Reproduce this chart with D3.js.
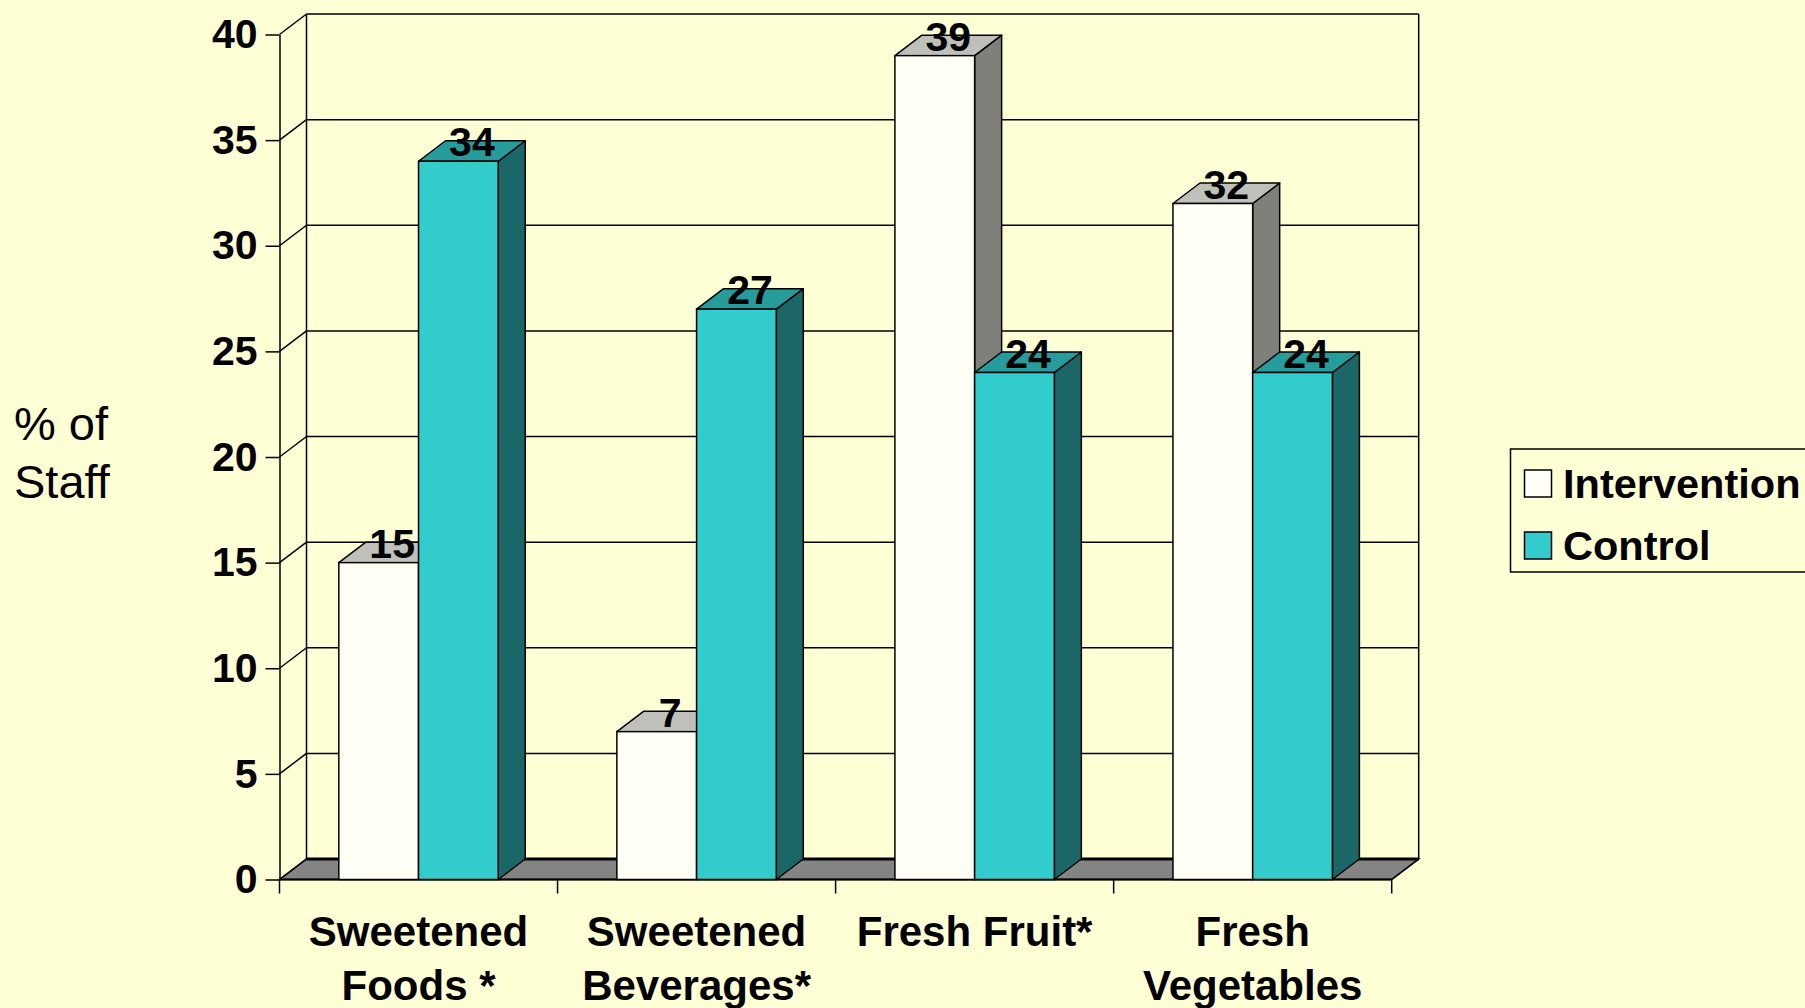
<!DOCTYPE html>
<html>
<head>
<meta charset="utf-8">
<script src="https://cdn.jsdelivr.net/npm/d3@7"></script>
<style>
  html, body { margin: 0; padding: 0; background: #FFFFD6; }
  svg { display: block; }
  text { font-family: "Liberation Sans", Arial, sans-serif; }
</style>
</head>
<body>
<svg id="chart" width="1805" height="1008"></svg>
<script>
// ---- data ----
const categories = [["Sweetened", "Foods *"], ["Sweetened", "Beverages*"], ["Fresh Fruit*"], ["Fresh", "Vegetables"]];
const categoryKeys = ["Sweetened Foods *", "Sweetened Beverages*", "Fresh Fruit*", "Fresh Vegetables"];
const seriesNames = ["Intervention", "Control"];
const interventionValues = [15, 7, 39, 32];
const controlValues = [34, 27, 24, 24];
const yTicks = [0, 5, 10, 15, 20, 25, 30, 35, 40];

// ---- styles ----
const bg = "#FFFFD6";
const colors = {
  Intervention: { front: "#FFFFF6", top: "#C0C0BA", side: "#80807B" },
  Control: { front: "#33CCCC", top: "#279C9C", side: "#1B6666" }
};
const DX = 27, DY = -20.5;

const svg = d3.select("#chart");
svg.append("rect").attr("width", 1805).attr("height", 1008).attr("fill", bg);

const y = d3.scaleLinear().domain([0, 40]).range([879.5, 34.5]);
const x0 = d3.scaleBand().domain(categoryKeys).range([279.5, 1391.7]).padding(0);
const x1 = d3.scaleBand().domain(seriesNames).range([0, x0.bandwidth()]).paddingInner(0).paddingOuter(0.744);

const xL = x0.range()[0], xR = x0.range()[1];
const g = svg.append("g");

// floor
g.append("path")
  .attr("d", `M${xL},${y(0)} L${xR},${y(0)} L${xR + DX},${y(0) + DY} L${xL + DX},${y(0) + DY} Z`)
  .attr("fill", "#848484").attr("stroke", "#000").attr("stroke-width", 1.5);

// back wall gridlines and side wall diagonals
yTicks.forEach(t => {
  g.append("line")
    .attr("x1", xL + DX).attr("x2", xR + DX)
    .attr("y1", y(t) + DY).attr("y2", y(t) + DY)
    .attr("stroke", "#000").attr("stroke-width", t === 0 ? 3 : 1.5);
  g.append("line")
    .attr("x1", xL).attr("x2", xL + DX)
    .attr("y1", y(t)).attr("y2", y(t) + DY)
    .attr("stroke", "#000").attr("stroke-width", 1.5);
});
// back wall verticals
[xL + DX, xR + DX].forEach(xx => {
  g.append("line").attr("x1", xx).attr("x2", xx)
    .attr("y1", y(40) + DY).attr("y2", y(0) + DY)
    .attr("stroke", "#000").attr("stroke-width", 1.5);
});
// floor right diagonal
g.append("line").attr("x1", xR).attr("x2", xR + DX).attr("y1", y(0)).attr("y2", y(0) + DY)
  .attr("stroke", "#000").attr("stroke-width", 1.5);

// y axis
const yAxis = d3.axisLeft(y).tickValues(yTicks).tickSize(14).tickSizeOuter(0).tickPadding(8);
const ya = svg.append("g").attr("transform", `translate(${xL},0)`).call(yAxis);
ya.select(".domain").attr("stroke", "#000").attr("stroke-width", 1.5);
ya.selectAll(".tick line").attr("stroke", "#000").attr("stroke-width", 1.5);
ya.selectAll(".tick text").attr("font-size", 41).attr("font-weight", "bold").attr("fill", "#000")
  .attr("font-family", "'Liberation Sans', Arial, sans-serif");

// x baseline and category ticks
svg.append("line").attr("x1", xL).attr("x2", xR).attr("y1", y(0)).attr("y2", y(0))
  .attr("stroke", "#000").attr("stroke-width", 2);
const boundaries = categoryKeys.map(c => x0(c)).concat([x0(categoryKeys[categoryKeys.length - 1]) + x0.bandwidth()]);
boundaries.forEach(bx => {
  svg.append("line").attr("x1", bx).attr("x2", bx).attr("y1", y(0)).attr("y2", y(0) + 14)
    .attr("stroke", "#000").attr("stroke-width", 1.5);
});

// category labels
categoryKeys.forEach((c, i) => {
  const t = svg.append("text")
    .attr("x", x0(c) + x0.bandwidth() / 2)
    .attr("y", 946)
    .attr("text-anchor", "middle")
    .attr("font-size", 42).attr("font-weight", "bold").attr("fill", "#000");
  categories[i].forEach((line, j) => {
    t.append("tspan").attr("x", x0(c) + x0.bandwidth() / 2).attr("y", 946 + j * 54).text(line);
  });
});

// bars
const data = categoryKeys.map((c, i) => ({ cat: c, values: [
  { s: "Intervention", v: interventionValues[i] },
  { s: "Control", v: controlValues[i] }
]}));

const bars = svg.append("g");
data.forEach(d => {
  d.values.forEach(b => {
    const left = x0(d.cat) + x1(b.s);
    const right = left + x1.bandwidth();
    const top = y(b.v), bot = y(0);
    const col = colors[b.s];
    // side
    bars.append("path")
      .attr("d", `M${right},${bot} L${right},${top} L${right + DX},${top + DY} L${right + DX},${bot + DY} Z`)
      .attr("fill", col.side).attr("stroke", "#000").attr("stroke-width", 1.5).attr("stroke-linejoin", "round");
    // top
    bars.append("path")
      .attr("d", `M${left},${top} L${right},${top} L${right + DX},${top + DY} L${left + DX},${top + DY} Z`)
      .attr("fill", col.top).attr("stroke", "#000").attr("stroke-width", 1.5).attr("stroke-linejoin", "round");
    // front
    bars.append("rect")
      .attr("x", left).attr("y", top).attr("width", x1.bandwidth()).attr("height", bot - top)
      .attr("fill", col.front).attr("stroke", "#000").attr("stroke-width", 1.5);
  });
});
// value labels
data.forEach(d => {
  d.values.forEach(b => {
    const cx = x0(d.cat) + x1(b.s) + x1.bandwidth() / 2 + DX / 2;
    svg.append("text").attr("x", cx).attr("y", y(b.v) - 5)
      .attr("text-anchor", "middle").attr("font-size", 41).attr("font-weight", "bold")
      .attr("fill", "#000").text(b.v);
  });
});

// y title
const yt = svg.append("text").attr("font-size", 47).attr("fill", "#000");
yt.append("tspan").attr("x", 14).attr("y", 440).text("% of");
yt.append("tspan").attr("x", 14).attr("y", 498).text("Staff");

// legend
const lg = svg.append("g");
lg.append("rect").attr("x", 1510.5).attr("y", 449).attr("width", 320).attr("height", 123)
  .attr("fill", bg).attr("stroke", "#000").attr("stroke-width", 1.5);
seriesNames.forEach((s, i) => {
  lg.append("rect").attr("x", 1524.5).attr("y", 470 + i * 62).attr("width", 27).attr("height", 27)
    .attr("fill", colors[s].front).attr("stroke", "#000").attr("stroke-width", 1.5);
  lg.append("text").attr("x", 1563).attr("y", 497.5 + i * 62)
    .attr("font-size", 41.5).attr("font-weight", "bold").attr("fill", "#000").text(s);
});
</script>
</body>
</html>
